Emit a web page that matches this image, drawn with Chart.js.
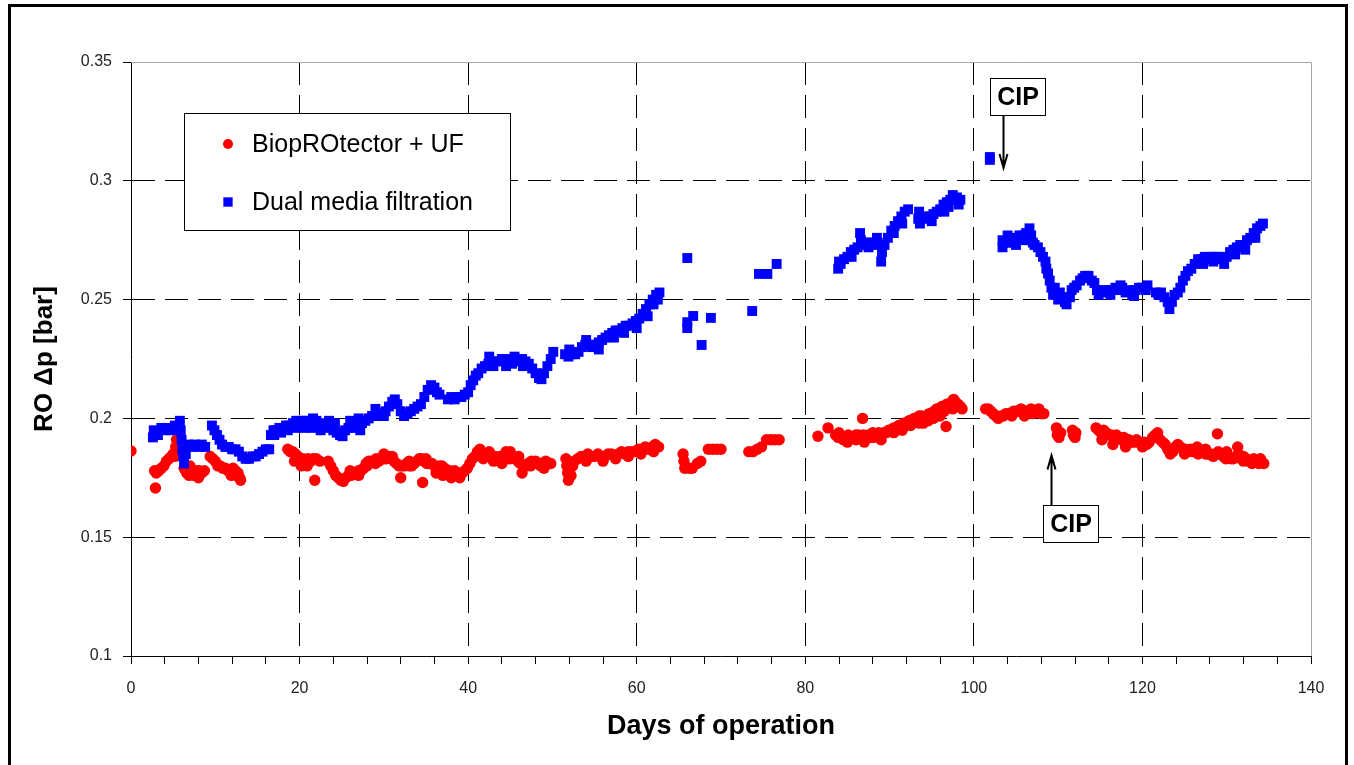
<!DOCTYPE html>
<html>
<head>
<meta charset="utf-8">
<title>RO differential pressure</title>
<script src="https://cdn.jsdelivr.net/npm/chart.js@4/dist/chart.umd.min.js"></script>
<style>
  html, body { margin: 0; padding: 0; background: #fff; }
  #chart { display: block; }
</style>
</head>
<body>
<canvas id="chart" width="1354" height="765"></canvas>
<script>
// values: day of operation -> RO pressure drop (bar)
const seriesNames = ['BiopROtector + UF', 'Dual media filtration'];

const redDays = [
  0.0, 2.9, 2.8, 3.0, 3.3, 3.6, 3.9, 4.2, 4.5, 4.8, 5.0, 5.2, 5.3, 5.4,
  6.3, 6.6, 6.9, 7.0, 7.2, 7.5, 7.8, 8.0, 8.1, 8.4, 8.7,
  9.4, 9.7, 10.0, 10.3, 10.6, 10.9, 11.2, 11.5, 11.8, 11.9, 12.1, 12.4, 12.5, 12.7, 12.9, 13.0,
  18.6, 18.9, 19.2, 19.4, 19.5, 19.8, 20.1, 20.2, 20.4, 20.7, 20.9, 21.0, 21.3, 21.6, 21.8, 22.0, 22.4,
  23.4, 23.7, 24.0, 24.3, 24.6, 24.9, 25.2, 25.5, 25.8, 26.1,
  26.4, 26.7, 27.0, 27.3, 27.6, 27.9, 28.2, 28.5, 28.8, 29.1,
  29.4, 29.7, 30.0, 30.3, 30.6, 30.9, 31.2, 31.5, 31.8, 32.0,
  32.1, 32.4, 32.7, 33.0, 33.3, 33.6, 33.9, 34.2, 34.5, 34.6,
  34.8, 35.1, 35.4, 35.7, 36.0, 36.3, 36.6, 36.9, 37.2, 37.5,
  37.8, 38.1, 38.4, 38.7, 39.0, 39.3, 39.6, 39.9, 40.2, 40.5,
  40.8, 41.1, 41.4, 41.7, 42.0, 42.3, 42.6, 42.9, 43.2, 43.5,
  43.8, 44.1, 44.4, 44.7, 45.0, 45.3, 45.6, 45.9, 46.2, 46.4,
  46.5, 46.8, 47.1, 47.4, 47.7, 48.0, 48.3, 48.6, 48.9, 49.2,
  49.5, 49.8,
  51.6, 51.7, 51.8, 51.9, 52.2, 52.4, 52.6, 53.0, 53.4, 53.8,
  54.2, 54.6, 55.0, 55.4, 55.8, 56.2, 56.6, 57.0, 57.4, 57.8,
  58.2, 58.6, 59.0, 59.4, 59.8, 60.2, 60.6, 61.0, 61.4, 61.8,
  62.2, 62.6,
  65.5, 65.6, 65.7, 66.2, 66.6, 67.2, 67.6, 68.5, 69.0, 69.5, 70.0,
  73.3, 73.8, 74.3, 74.8, 75.4, 75.9, 76.4, 76.9,
  81.5, 82.7, 83.6, 83.9, 84.2, 84.5, 84.8, 85.1, 85.4, 85.7,
  86.0, 86.3, 86.8, 86.6, 86.9, 87.2, 87.5, 87.8, 88.1, 88.4,
  88.7, 89.0, 89.3, 89.6, 89.9, 90.2, 90.5, 90.8, 91.1, 91.4,
  91.7, 92.0, 92.3, 92.6, 92.9, 93.2, 93.5, 93.8, 94.1, 94.4,
  94.7, 95.0, 95.3, 95.6, 95.9, 96.2, 96.5, 96.7, 96.8, 97.1,
  97.4, 97.6, 97.8, 98.1, 98.4, 98.6, 94.0, 94.6, 95.2, 96.0,
  101.4, 101.7, 102.0, 102.3, 102.6, 102.9, 103.2, 103.5, 103.8, 104.1,
  104.4, 104.7, 105.0, 105.3, 105.6, 105.9, 106.2, 106.5, 106.8, 107.1,
  107.4, 107.7, 108.0, 108.3,
  109.8, 109.9, 110.1, 110.3, 111.7, 111.8, 112.0, 112.1,
  114.5, 114.8, 115.1, 115.4, 115.7, 116.0, 116.3, 116.6, 116.9, 117.2,
  117.5, 117.8, 118.1, 118.4, 118.7, 119.0, 119.3, 119.6, 119.9, 120.2,
  120.5, 120.8, 121.2, 121.5, 121.8, 122.1, 122.4, 122.7, 123.0, 123.3,
  123.6, 123.9, 124.2, 124.5, 124.8, 125.1, 125.4, 125.7, 126.0, 126.3,
  126.6, 126.9, 127.2, 127.5, 127.8, 128.1, 128.4, 128.7, 128.9, 129.0,
  129.3, 129.6, 129.9, 130.2, 130.5, 130.8, 131.1, 131.4, 131.7, 132.0,
  132.3, 132.6, 132.9, 133.2, 133.5, 133.8, 134.1, 134.4,
  36.2, 37.0, 38.0, 39.0, 43.0, 44.0, 45.0, 30.0, 84.0, 85.0,
  86.0, 87.0, 88.0, 89.0, 115.2, 116.5, 118.0, 120.0, 130.0, 131.3,
  26.0, 27.0, 28.0, 29.0, 31.0, 33.0, 35.0, 41.8, 42.5, 44.5,
  46.0, 47.5, 49.0, 54.0, 56.0, 57.5, 59.0, 60.5, 62.0,
  90.5, 91.5, 92.5, 93.5, 96.5, 97.5, 104.5, 106.0, 107.0, 125.0,
  126.5, 127.5, 132.0, 133.0, 134.0
];
const redDp = [
  0.1863, 0.1707, 0.178, 0.177, 0.178, 0.179, 0.180, 0.182, 0.183, 0.184, 0.185, 0.184, 0.188, 0.191,
  0.179, 0.177, 0.176, 0.180, 0.177, 0.176, 0.178, 0.175, 0.178, 0.177, 0.178,
  0.184, 0.183, 0.182, 0.180, 0.180, 0.179, 0.179, 0.178, 0.178, 0.176, 0.179, 0.178, 0.176, 0.177, 0.175, 0.174,
  0.187, 0.186, 0.186, 0.182, 0.185, 0.184, 0.183, 0.180, 0.183, 0.182, 0.180, 0.183, 0.182, 0.183, 0.174, 0.183, 0.182,
  0.182, 0.180, 0.178, 0.176, 0.175, 0.174, 0.1735, 0.175, 0.176, 0.176,
  0.177, 0.177, 0.178, 0.178, 0.179, 0.181, 0.182, 0.182, 0.182, 0.183,
  0.182, 0.183, 0.183, 0.183, 0.184, 0.183, 0.182, 0.181, 0.180, 0.175,
  0.180, 0.180, 0.181, 0.180, 0.180, 0.181, 0.182, 0.183, 0.183, 0.173,
  0.182, 0.181, 0.181, 0.181, 0.180, 0.179, 0.180, 0.180, 0.179, 0.178,
  0.178, 0.177, 0.178, 0.177, 0.177, 0.177, 0.178, 0.179, 0.181, 0.183,
  0.184, 0.186, 0.187, 0.185, 0.184, 0.184, 0.185, 0.184, 0.184, 0.183,
  0.184, 0.184, 0.184, 0.183, 0.183, 0.184, 0.183, 0.182, 0.181, 0.177,
  0.180, 0.180, 0.181, 0.180, 0.181, 0.182, 0.181, 0.180, 0.181, 0.182,
  0.181, 0.181,
  0.183, 0.180, 0.177, 0.174, 0.176, 0.180, 0.182, 0.183, 0.184, 0.184,
  0.185, 0.184, 0.184, 0.185, 0.184, 0.184, 0.185, 0.185, 0.184, 0.185,
  0.186, 0.185, 0.186, 0.186, 0.186, 0.187, 0.187, 0.188, 0.187, 0.188,
  0.189, 0.188,
  0.185, 0.182, 0.179, 0.179, 0.179, 0.181, 0.182, 0.187, 0.187, 0.187, 0.187,
  0.186, 0.186, 0.187, 0.188, 0.191, 0.191, 0.191, 0.191,
  0.1925, 0.196, 0.193, 0.192, 0.192, 0.191, 0.192, 0.193, 0.192, 0.192,
  0.193, 0.193, 0.200, 0.192, 0.193, 0.192, 0.193, 0.192, 0.192, 0.193,
  0.194, 0.193, 0.194, 0.194, 0.195, 0.195, 0.196, 0.196, 0.197, 0.197,
  0.198, 0.198, 0.199, 0.199, 0.200, 0.200, 0.201, 0.201, 0.200, 0.201,
  0.202, 0.202, 0.203, 0.204, 0.204, 0.205, 0.205, 0.1966, 0.206, 0.206,
  0.207, 0.208, 0.207, 0.206, 0.205, 0.204, 0.198, 0.199, 0.200, 0.201,
  0.204, 0.204, 0.203, 0.202, 0.201, 0.200, 0.201, 0.201, 0.202, 0.202,
  0.202, 0.203, 0.203, 0.203, 0.204, 0.203, 0.203, 0.203, 0.204, 0.203,
  0.203, 0.204, 0.202, 0.202,
  0.196, 0.193, 0.192, 0.194, 0.195, 0.193, 0.192, 0.194,
  0.196, 0.195, 0.194, 0.195, 0.194, 0.193, 0.193, 0.192, 0.193, 0.192,
  0.191, 0.192, 0.191, 0.191, 0.190, 0.190, 0.191, 0.190, 0.189, 0.190,
  0.189, 0.190, 0.192, 0.193, 0.194, 0.191, 0.190, 0.189, 0.187, 0.185,
  0.186, 0.188, 0.189, 0.188, 0.187, 0.187, 0.186, 0.187, 0.186, 0.186,
  0.185, 0.186, 0.186, 0.185, 0.185, 0.185, 0.184, 0.185, 0.1935, 0.186,
  0.185, 0.184, 0.183, 0.184, 0.183, 0.183, 0.184, 0.185, 0.183, 0.182,
  0.183, 0.182, 0.182, 0.183, 0.182, 0.181, 0.182, 0.181,
  0.177, 0.176, 0.175, 0.175, 0.182, 0.181, 0.186, 0.185, 0.194, 0.190,
  0.191, 0.190, 0.194, 0.191, 0.191, 0.189, 0.188, 0.188, 0.186, 0.188,
  0.178, 0.176, 0.180, 0.181, 0.184, 0.182, 0.183, 0.183, 0.186, 0.186,
  0.184, 0.182, 0.179, 0.182, 0.182, 0.183, 0.184, 0.185, 0.186,
  0.194, 0.195, 0.197, 0.198, 0.203, 0.204, 0.201, 0.201, 0.202, 0.185,
  0.188, 0.187, 0.184, 0.181, 0.183
];

const blueDays = [
  2.6, 2.7, 3.0, 3.2, 3.6, 4.0, 4.4, 4.8, 5.2, 5.5, 5.8, 5.9, 6.0, 6.1, 6.2, 6.3, 6.5, 6.8, 7.2, 7.6, 8.0, 8.4, 8.8,
  9.6, 9.9, 10.2, 10.5, 10.8, 11.2, 11.6, 12.0, 12.4, 12.8, 13.2, 13.6, 14.0, 14.4, 14.8, 15.2, 15.6, 16.0, 16.4,
  16.6, 16.9, 17.2, 17.6, 18.0, 18.4, 18.8, 19.2, 19.6, 20.0, 20.4, 20.8, 21.2, 21.6, 22.0, 22.4, 22.8, 23.2, 23.6,
  24.0, 24.4, 24.8, 25.1, 25.4, 25.8, 26.2, 26.6, 27.0, 27.4, 27.8, 28.2, 28.6, 29.0, 29.4, 29.8, 30.2,
  30.6, 31.0, 31.3, 31.6, 32.0, 32.4, 32.8, 33.2, 33.6, 34.0, 34.4, 34.8, 35.2, 35.6, 36.0, 36.3, 36.6,
  37.6, 38.0, 38.4, 38.8, 39.2, 39.6, 40.0, 40.3, 40.6, 40.9, 41.2, 41.6, 42.0, 42.4, 42.8, 43.2, 43.6,
  44.0, 44.4, 44.8, 45.2, 45.6, 46.0, 46.4, 46.8, 47.2, 47.6, 48.0, 48.4, 48.7, 49.0, 49.4, 49.8, 50.1,
  51.5, 51.9, 52.3, 52.7, 53.1, 53.5, 53.9, 54.3, 54.7, 55.1, 55.5, 55.9, 56.3, 56.7, 57.1,
  57.5, 57.9, 58.3, 58.7, 59.1, 59.5, 59.9, 60.3, 60.7, 61.1, 61.5, 61.9, 62.3, 62.7,
  66.0, 66.0, 66.0, 66.7, 67.7, 68.8, 73.7, 74.5, 75.5, 76.6,
  83.9, 84.0, 84.2, 84.6, 85.0, 85.4, 85.8, 86.2, 86.5, 86.6, 87.0, 87.4, 87.8,
  88.2, 88.6, 89.0, 89.1, 89.4, 89.8, 90.2, 90.6, 91.0, 91.4, 91.8, 92.2,
  93.4, 93.6, 94.0, 94.4, 94.8, 95.2, 95.6, 96.0, 96.4, 96.8, 97.2, 97.6, 98.0, 98.4,
  101.9, 101.9,
  103.4, 103.4, 103.8, 104.2, 104.6, 105.0, 105.4, 105.8, 106.2, 106.6,
  106.8, 107.0, 107.2, 107.6, 107.9, 108.2, 108.5, 108.6, 108.8, 109.0,
  109.2, 109.4, 109.8, 110.2, 110.5, 110.8, 111.0, 111.4, 111.6, 111.9,
  112.2, 112.6, 112.9, 113.2, 113.6, 114.0, 114.3, 114.6, 114.8, 115.2,
  115.6, 116.0, 116.4, 116.8, 117.2, 117.6, 118.0, 118.4, 118.8, 119.2,
  119.6, 120.0, 120.4,
  121.6, 121.9, 122.2, 122.6, 123.0, 123.2, 123.5, 123.8, 124.2, 124.5,
  124.8, 125.1, 125.4, 125.8, 126.2, 126.6, 127.0, 127.4, 127.8, 128.2,
  128.6, 129.0, 129.4, 129.7, 130.0, 130.4, 130.8, 131.2, 131.6, 132.0,
  132.4, 132.8, 133.2, 133.6, 134.0, 134.3,
  17.0, 17.8, 18.6, 24.2, 27.2, 57.3, 58.5, 60.0, 61.3, 93.5, 97.0, 98.2,
  19.5, 20.5, 21.5, 22.5, 23.5, 26.0, 27.0, 29.0, 30.0, 42.5,
  43.0, 44.5, 45.5, 46.5, 52.0, 54.0, 55.5, 62.0, 62.5, 85.5,
  87.5, 88.5, 90.5, 91.5, 95.0, 96.5, 97.5, 104.0, 105.0, 106.0,
  109.6, 110.0, 116.2, 117.4, 119.0, 120.6, 127.2, 128.4, 131.0, 132.2, 133.4
];
const blueDp = [
  0.192, 0.195, 0.194, 0.193, 0.196, 0.195, 0.196, 0.195, 0.197, 0.196, 0.199, 0.195, 0.191, 0.187, 0.184, 0.181, 0.185, 0.189, 0.188, 0.189, 0.188, 0.189, 0.188,
  0.197, 0.195, 0.193, 0.191, 0.189, 0.188, 0.188, 0.187, 0.187, 0.186, 0.184, 0.183, 0.183, 0.184, 0.184, 0.185, 0.186, 0.187, 0.187,
  0.193, 0.195, 0.195, 0.196, 0.196, 0.197, 0.197, 0.198, 0.199, 0.198, 0.199, 0.199, 0.198, 0.200, 0.199, 0.197, 0.198, 0.197, 0.196,
  0.195, 0.194, 0.193, 0.1925, 0.195, 0.196, 0.196, 0.197, 0.197, 0.198, 0.199, 0.200, 0.201, 0.201, 0.202, 0.202, 0.203,
  0.205, 0.207, 0.208, 0.206, 0.203, 0.201, 0.202, 0.203, 0.204, 0.205, 0.206, 0.209, 0.212, 0.214, 0.213, 0.211, 0.210,
  0.208, 0.209, 0.208, 0.209, 0.209, 0.210, 0.211, 0.214, 0.216, 0.218, 0.219, 0.221, 0.222, 0.223, 0.223, 0.224, 0.224,
  0.225, 0.225, 0.224, 0.223, 0.224, 0.225, 0.225, 0.224, 0.223, 0.221, 0.219, 0.217, 0.2165, 0.219, 0.222, 0.225, 0.228,
  0.227, 0.226, 0.227, 0.227, 0.228, 0.230, 0.231, 0.231, 0.230, 0.231, 0.232, 0.233, 0.234, 0.235, 0.236,
  0.237, 0.237, 0.238, 0.239, 0.239, 0.240, 0.241, 0.242, 0.244, 0.246, 0.248, 0.250, 0.252, 0.253,
  0.2675, 0.238, 0.2405, 0.2431, 0.2309, 0.2423, 0.2452, 0.2608, 0.2608, 0.265,
  0.263, 0.266, 0.265, 0.267, 0.268, 0.270, 0.271, 0.272, 0.278, 0.275, 0.273, 0.274, 0.274,
  0.273, 0.274, 0.266, 0.270, 0.273, 0.276, 0.279, 0.281, 0.283, 0.285, 0.287, 0.288,
  0.284, 0.282, 0.284, 0.285, 0.285, 0.286, 0.287, 0.288, 0.290, 0.291, 0.292, 0.292, 0.293, 0.292,
  0.3100, 0.3088,
  0.272, 0.275, 0.274, 0.274, 0.275, 0.276, 0.277, 0.277, 0.278, 0.280,
  0.277, 0.274, 0.273, 0.272, 0.270, 0.268, 0.266, 0.263, 0.261, 0.258,
  0.255, 0.252, 0.252, 0.253, 0.251, 0.249, 0.248, 0.251, 0.254, 0.255,
  0.256, 0.258, 0.259, 0.260, 0.260, 0.258, 0.257, 0.254, 0.252, 0.253,
  0.254, 0.254, 0.254, 0.255, 0.254, 0.255, 0.253, 0.254, 0.252, 0.254,
  0.255, 0.255, 0.254,
  0.253, 0.252, 0.253, 0.251, 0.249, 0.246, 0.249, 0.252, 0.253, 0.255,
  0.258, 0.260, 0.262, 0.263, 0.265, 0.267, 0.267, 0.268, 0.267, 0.268,
  0.268, 0.268, 0.267, 0.265, 0.268, 0.270, 0.271, 0.272, 0.273, 0.273,
  0.275, 0.276, 0.278, 0.280, 0.281, 0.282,
  0.193, 0.194, 0.195, 0.198, 0.195, 0.234, 0.236, 0.238, 0.243, 0.287, 0.289, 0.290,
  0.196, 0.196, 0.196, 0.195, 0.199, 0.199, 0.200, 0.204, 0.201, 0.226,
  0.222, 0.222, 0.226, 0.222, 0.229, 0.233, 0.229, 0.248, 0.250, 0.268,
  0.272, 0.276, 0.278, 0.282, 0.283, 0.287, 0.294, 0.277, 0.273, 0.275,
  0.255, 0.250, 0.252, 0.256, 0.2515, 0.256, 0.265, 0.266, 0.269, 0.271, 0.276
];

const dayTickLabels = [0, 20, 40, 60, 80, 100, 120, 140];
const dpTickLabels = [0.1, 0.15, 0.2, 0.25, 0.3, 0.35];

// CIP call-outs: box centre and arrow tip, in data units
const cipNotes = [
  { text: 'CIP', boxDay: 105.15, boxDp: 0.3355, tipDay: 103.45, tipDp: 0.3054 },
  { text: 'CIP', boxDay: 111.5, boxDp: 0.1558, tipDay: 109.15, tipDp: 0.1844 }
];

const FONT = '"Liberation Sans", Arial, Helvetica, sans-serif';
Chart.defaults.font.family = FONT;

const toPoints = (xs, ys) => xs.map((x, i) => ({ x: x, y: ys[i] }));
const isTick = (list, v) => list.some(t => Math.abs(t - v) < 1e-6);

const decorPlugin = {
  id: 'decor',
  beforeDraw(chart) {
    const ctx = chart.ctx;
    ctx.save();
    ctx.fillStyle = '#fff';
    ctx.fillRect(0, 0, chart.width, chart.height);
    ctx.restore();
  },
  beforeDatasetsDraw(chart) {
    // light grey top and right edges of the plot area
    const { ctx, chartArea: a } = chart;
    ctx.save();
    ctx.strokeStyle = '#a6a6a6';
    ctx.lineWidth = 1;
    ctx.beginPath();
    ctx.moveTo(a.left, Math.round(a.top) + 0.5);
    ctx.lineTo(Math.round(a.right) + 0.5, Math.round(a.top) + 0.5);
    ctx.lineTo(Math.round(a.right) + 0.5, a.bottom);
    ctx.stroke();
    ctx.restore();
  },
  afterDraw(chart) {
    const { ctx, chartArea: a } = chart;
    const xs = chart.scales.x, ys = chart.scales.y;
    ctx.save();

    // legend box inside the plot
    const bx = Math.round(a.left) + 53, by = Math.round(a.top) + 51, bw = 326, bh = 117;
    ctx.fillStyle = '#fff';
    ctx.fillRect(bx, by, bw, bh);
    ctx.strokeStyle = '#000';
    ctx.lineWidth = 1;
    ctx.strokeRect(bx + 0.5, by + 0.5, bw, bh);
    chart.data.datasets.forEach((ds, i) => {
      const cy = by + 31 + i * 58;
      ctx.fillStyle = ds.backgroundColor;
      Chart.helpers.drawPoint(ctx, { pointStyle: ds.pointStyle, radius: ds.legendRadius, borderWidth: 0, rotation: 0 }, bx + 44, cy);
      ctx.fillStyle = '#000';
      ctx.font = '25px ' + FONT;
      ctx.textAlign = 'left';
      ctx.textBaseline = 'middle';
      ctx.fillText(ds.label, bx + 68, cy + 1);
    });

    // CIP call-outs
    cipNotes.forEach(n => {
      const cx = xs.getPixelForValue(n.boxDay), cy = ys.getPixelForValue(n.boxDp);
      const tx = Math.round(xs.getPixelForValue(n.tipDay)) + 0.5, ty = ys.getPixelForValue(n.tipDp);
      const w = 55, h = 37;
      const left = Math.round(cx - w / 2), top = Math.round(cy - h / 2);
      ctx.fillStyle = '#fff';
      ctx.fillRect(left, top, w, h);
      ctx.strokeStyle = '#000';
      ctx.lineWidth = 1;
      ctx.strokeRect(left + 0.5, top + 0.5, w, h);
      ctx.fillStyle = '#000';
      ctx.font = 'bold 25px ' + FONT;
      ctx.textAlign = 'center';
      ctx.textBaseline = 'middle';
      ctx.fillText(n.text, left + w / 2 + 0.5, top + h / 2 + 1.5);
      const down = ty > cy;
      const sy = down ? top + h + 1 : top;
      const dir = down ? -1 : 1;
      ctx.lineWidth = 2;
      ctx.beginPath();
      ctx.moveTo(tx, sy);
      ctx.lineTo(tx, ty);
      ctx.moveTo(tx - 4, ty + dir * 14);
      ctx.lineTo(tx, ty);
      ctx.lineTo(tx + 4, ty + dir * 14);
      ctx.stroke();
    });

    // outer black frame
    ctx.strokeStyle = '#000';
    ctx.lineWidth = 3;
    ctx.strokeRect(9.5, 5.5, 1337, 800);
    ctx.restore();
  }
};

new Chart(document.getElementById('chart'), {
  type: 'scatter',
  data: {
    datasets: [
      {
        label: seriesNames[0],
        data: toPoints(redDays, redDp),
        backgroundColor: '#ff0000',
        borderWidth: 0,
        pointStyle: 'circle',
        pointRadius: 5.7,
        pointHoverRadius: 5.7,
        legendRadius: 5,
        order: 1
      },
      {
        label: seriesNames[1],
        data: toPoints(blueDays, blueDp),
        backgroundColor: '#0000ff',
        borderWidth: 0,
        pointStyle: 'rect',
        pointRadius: 7,
        pointHoverRadius: 7,
        legendRadius: 6.6,
        order: 0
      }
    ]
  },
  options: {
    responsive: false,
    animation: false,
    devicePixelRatio: 1,
    layout: { padding: { left: 29, top: 62, right: 43, bottom: 22 } },
    plugins: { legend: { display: false }, tooltip: { enabled: false } },
    scales: {
      x: {
        type: 'linear',
        min: 0,
        max: 140,
        afterFit: s => { s.height = 87; },
        ticks: {
          stepSize: 4,
          autoSkip: false,
          maxRotation: 0,
          padding: 15,
          color: '#222',
          font: { size: 16 },
          callback: v => isTick(dayTickLabels, v) ? String(v) : ''
        },
        grid: {
          color: c => (c.tick && c.tick.value % 20 === 0 && c.tick.value > 0 && c.tick.value < 140) ? '#000' : 'rgba(0,0,0,0)',
          lineWidth: 1,
          tickLength: 8,
          tickColor: '#000'
        },
        border: { color: '#000', width: 1, dash: [23, 10] },
        title: { display: true, text: 'Days of operation', color: '#000', padding: 0, font: { size: 27, weight: 'bold' } }
      },
      y: {
        min: 0.1,
        max: 0.35,
        afterFit: s => { s.width = 102; },
        ticks: {
          stepSize: 0.05,
          padding: 11,
          color: '#222',
          font: { size: 16 },
          callback: v => isTick(dpTickLabels, v) ? String(+v.toFixed(2)) : ''
        },
        grid: {
          color: c => (c.tick && c.tick.value > 0.101 && c.tick.value < 0.349) ? '#000' : 'rgba(0,0,0,0)',
          lineWidth: 1,
          tickLength: 8,
          tickColor: '#000'
        },
        border: { color: '#000', width: 1, dash: [23, 10] },
        title: { display: true, text: 'RO \u0394p [bar]', color: '#000', padding: 0, font: { size: 26, weight: 'bold' } }
      }
    }
  },
  plugins: [decorPlugin]
});
</script>
</body>
</html>
